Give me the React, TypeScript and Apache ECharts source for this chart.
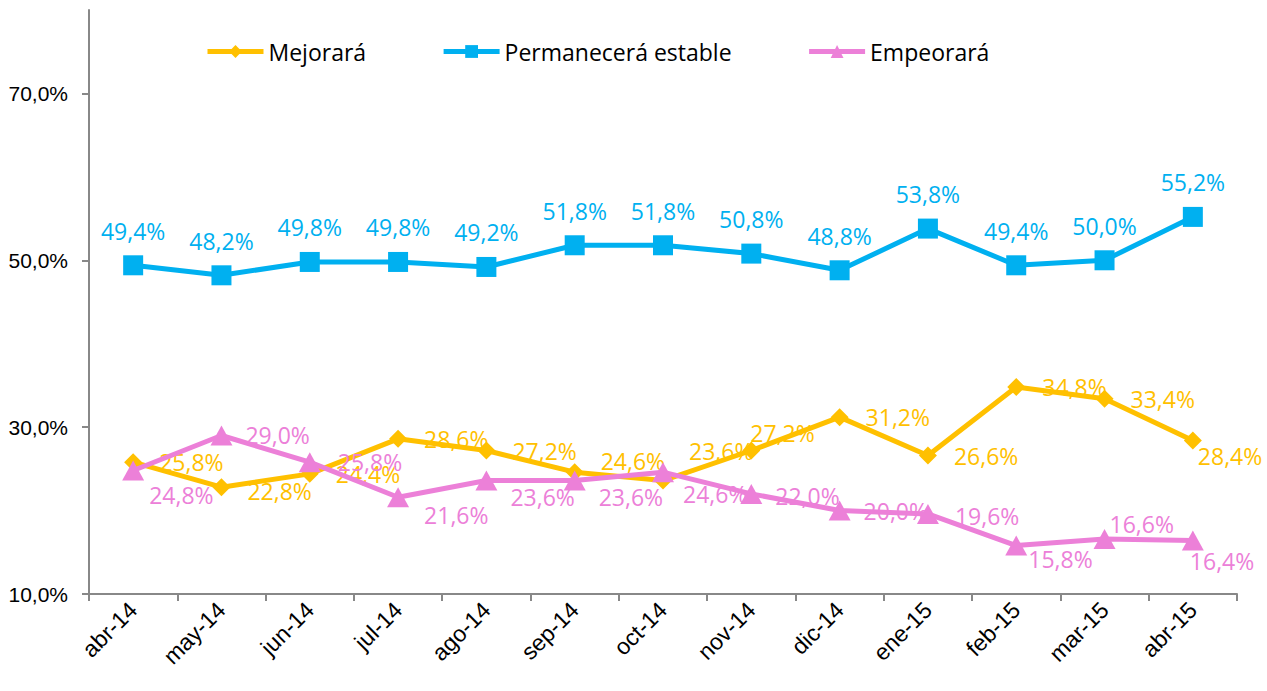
import React, { useEffect, useRef } from "react";
import * as echarts from "echarts";

const categories = ["abr-14", "may-14", "jun-14", "jul-14", "ago-14", "sep-14", "oct-14", "nov-14", "dic-14", "ene-15", "feb-15", "mar-15", "abr-15"];
const mejorara = [25.8, 22.8, 24.4, 28.6, 27.2, 24.6, 23.6, 27.2, 31.2, 26.6, 34.8, 33.4, 28.4];
const permanecera = [49.4, 48.2, 49.8, 49.8, 49.2, 51.8, 51.8, 50.8, 48.8, 53.8, 49.4, 50.0, 55.2];
const empeorara = [24.8, 29.0, 25.8, 21.6, 23.6, 23.6, 24.6, 22.0, 20.0, 19.6, 15.8, 16.6, 16.4];
const yTickValues = [10, 30, 50, 70];

const fmt = (v: number) => v.toFixed(1).replace(".", ",") + "%";

const YELLOW = "#FFC000";
const BLUE = "#00B0F0";
const PINK = "#EC80D8";

// label nudges (layout only) keyed by category index
const mejoraNudge: Record<number, [number, number]> = {
  1: [0, 4],
  5: [0, -11],
  6: [0, -30],
  7: [-27, -18],
  12: [-21, 16],
};
const empeoraNudge: Record<number, [number, number]> = {
  0: [-8, 24],
  2: [4, 0],
  3: [2, 18],
  4: [0, 16],
  5: [0, 16],
  6: [-4, 22],
  7: [0, 2],
  9: [3, 2],
  10: [-12, 13],
  11: [-19, -15],
  12: [-27, 20],
};

function withNudge(values: number[], nudge: Record<number, [number, number]>) {
  return values.map((v, i) =>
    nudge[i] ? { value: v, label: { offset: nudge[i] } } : v
  );
}

export default function App() {
  const ref = useRef<HTMLDivElement>(null);
  useEffect(() => {
    document.body.style.margin = "0";
    if (!ref.current) return;
    const chart = echarts.init(ref.current, null, { renderer: "svg" });
    const labelFont = {
      fontFamily: "'Open Sans', 'Noto Sans', sans-serif",
      fontSize: 23,
    };
    chart.setOption({
      animation: false,
      backgroundColor: "#ffffff",
      grid: { left: 89, right: 30, top: 10, bottom: 97, containLabel: false },
      legend: {
        left: 200,
        top: 35,
        itemWidth: 56,
        itemHeight: 16,
        itemGap: 75,
        lineStyle: { width: 5 },
        textStyle: {
          fontFamily: "'Open Sans', 'Noto Sans', sans-serif",
          fontSize: 23,
          color: "#000",
        },
        data: ["Mejorará", "Permanecerá estable", "Empeorará"],
      },
      xAxis: {
        type: "category",
        data: categories,
        boundaryGap: true,
        axisLine: { lineStyle: { color: "#888", width: 2 } },
        axisTick: { show: true, alignWithLabel: false, length: 7, lineStyle: { color: "#888", width: 2 } },
        axisLabel: {
          rotate: 45,
          margin: 12,
          color: "#000",
          fontFamily: "'Liberation Sans', Arial, sans-serif",
          fontSize: 23,
        },
        splitLine: { show: false },
      },
      yAxis: {
        type: "value",
        min: 10,
        max: 80,
        interval: 10,
        axisLine: { show: true, lineStyle: { color: "#888", width: 2 } },
        axisTick: {
          show: true,
          length: 7,
          customValues: yTickValues,
          lineStyle: { color: "#888", width: 2 },
        },
        axisLabel: {
          customValues: yTickValues,
          formatter: (v: number) => fmt(v),
          margin: 21,
          color: "#000",
          fontFamily: "'Liberation Sans', Arial, sans-serif",
          fontSize: 21,
        },
        splitLine: { show: false },
      },
      series: [
        {
          name: "Mejorará",
          type: "line",
          data: withNudge(mejorara, mejoraNudge),
          symbol: "diamond",
          symbolSize: 18,
          color: YELLOW,
          lineStyle: { width: 5, color: YELLOW },
          itemStyle: { color: YELLOW },
          label: {
            show: true,
            position: "right",
            distance: 17,
            color: YELLOW,
            ...labelFont,
            formatter: (p: any) => fmt(p.value),
          },
          z: 3,
        },
        {
          name: "Permanecerá estable",
          type: "line",
          data: permanecera,
          symbol: "rect",
          symbolSize: 20,
          color: BLUE,
          lineStyle: { width: 5, color: BLUE },
          itemStyle: { color: BLUE },
          label: {
            show: true,
            position: "top",
            distance: 13,
            color: BLUE,
            ...labelFont,
            formatter: (p: any) => fmt(p.value),
          },
          z: 2,
        },
        {
          name: "Empeorará",
          type: "line",
          data: withNudge(empeorara, empeoraNudge),
          symbol: "triangle",
          symbolSize: [22, 20],
          color: PINK,
          lineStyle: { width: 5, color: PINK },
          itemStyle: { color: PINK },
          label: {
            show: true,
            position: "right",
            distance: 13,
            color: PINK,
            ...labelFont,
            formatter: (p: any) => fmt(p.value),
          },
          z: 4,
        },
      ],
    });
    return () => chart.dispose();
  }, []);
  return <div ref={ref} style={{ width: 1267, height: 691 }} />;
}
